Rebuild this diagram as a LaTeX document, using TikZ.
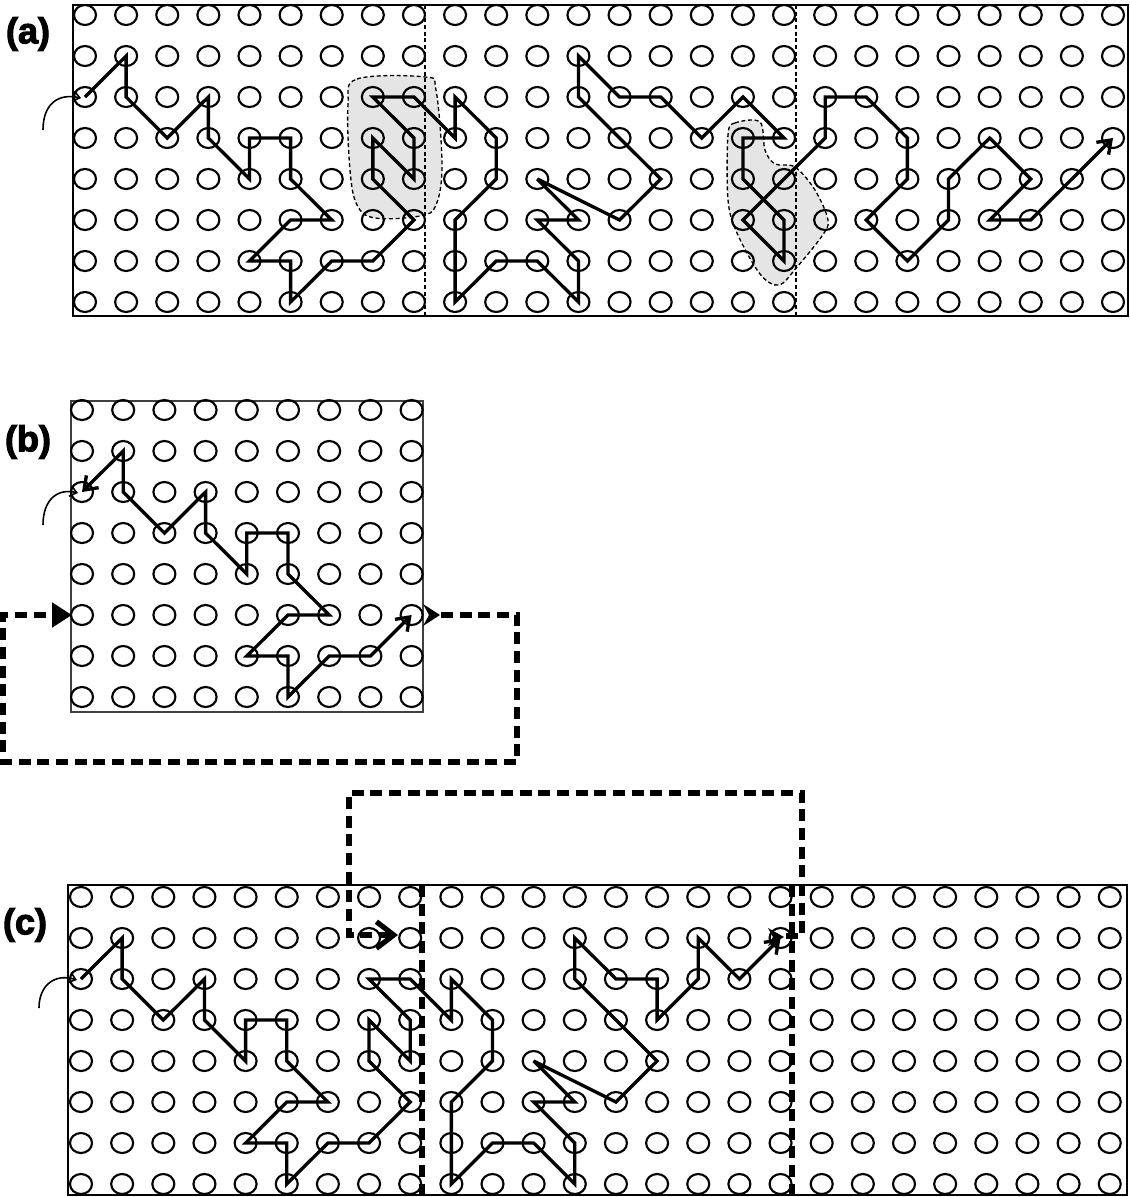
\documentclass[tikz,border=0pt]{standalone}
\usepackage{fontspec}
\newfontfamily\labfont{Liberation Sans Bold}[FakeBold=3]
\usetikzlibrary{arrows.meta,shapes.geometric,calc}
\begin{document}
\begin{tikzpicture}[x=0.75pt,y=-0.75pt,
 dot/.style={ellipse,draw=black,line width=1.6pt,minimum width=16.5pt,minimum height=15pt,inner sep=0pt},
 walk/.style={line width=2.5pt,line join=miter,miter limit=6},
 barbtip/.style={-{Straight Barb[length=9pt,width=13pt]}},
 startcurve/.style={line width=1.2pt,-{Straight Barb[length=5pt,width=8pt]}},
 thindash/.style={line width=1pt,dash pattern=on 3pt off 2pt},
 loopdash/.style={line width=3.9pt,dash pattern=on 9pt off 5pt},
 blob/.style={fill=gray!20,draw=black,line width=1pt,dash pattern=on 3pt off 2pt},
 lab/.style={font=\labfont\fontsize{27}{27}\selectfont,inner sep=0pt}
]
\useasboundingbox (0,0) rectangle (1130,1197);

\def\pathcommon{1/1,1/2,2/3,3/2,3/3,4/4,4/3,5/3,5/4,6/5,5/5,4/6,5/6,5/7,6/6,7/6,8/5}
\def\pathmid{7/4,7/3,8/4,8/3,7/2,8/2,9/3,9/2,10/3,10/4,9/5,9/7,10/6,11/6,12/7,12/6,11/5,12/5,11/4,13/5,14/4,12/2,12/1,13/2,14/2}
\def\pathAend{15/3,16/2,17/3,16/3,16/4,17/5,17/6,16/5,18/3,18/2,19/2,20/3,20/4,19/5,20/6,21/5,21/4,22/3,23/4,22/5,23/5,25/3}
\def\pathCend{14/3,15/2,15/1,16/2,17/1}

% ---------------- panel (a) ----------------
\draw[blob] plot[smooth cycle,tension=0.6] coordinates {(348,105) (357,79) (425,77) (436,90) (442,165) (436,205) (420,216) (375,218) (357,205) (350,170)};
\draw[blob] plot[smooth cycle,tension=0.55] coordinates {(728,135) (735,123) (760,122) (765,150) (775,164) (795,167) (815,190) (828,220) (822,236) (797,267) (779,285) (760,274) (737,233) (728,200)};
\draw[line width=2pt] (73,5) rectangle (1128,316);
\draw[thindash] (425,5) -- (425,316);
\draw[thindash] (796,5) -- (796,316);
\foreach \i in {0,...,25}{\foreach \j in {0,...,7}{
  \node[dot] (A\i-\j) at ({85+41.12*\i},{15+41*\j}) {};}}
\node[lab] (la) at (28,34) {(a)};
\coordinate (as) at (43,130);
\draw[startcurve] (as) .. controls (43,104) and (58,93) .. ($(A0-2.center)+(-4,1)$);
\draw[walk,barbtip] (A0-2.center) foreach \i/\j in \pathcommon {-- (A\i-\j.center)}
  foreach \i/\j in \pathmid {-- (A\i-\j.center)}
  foreach \i/\j in \pathAend {-- (A\i-\j.center)};

% ---------------- panel (b) ----------------
\draw[line width=0.9pt,black!75] (71,401) rectangle (423,712);
\foreach \i in {0,...,8}{\foreach \j in {0,...,7}{
  \node[dot] (B\i-\j) at ({82+41.2*\i},{410+41*\j}) {};}}
\node[lab] (lb) at (28,442) {(b)};
\coordinate (bs) at (43,525);
\draw[startcurve] (bs) .. controls (43,499) and (58,488) .. ($(B0-2.center)+(-4,1)$);
\draw[walk,{Straight Barb[length=9pt,width=13pt]}-{Straight Barb[length=9pt,width=13pt]}] (B0-2.center) foreach \i/\j in \pathcommon {-- (B\i-\j.center)};
\fill (423,604) -- (440,615) -- (423,626) -- (429,615) -- cycle;
\coordinate (bo) at (441,615);
\coordinate (bi) at (72,615);
\draw[loopdash,-{Triangle[length=15pt,width=18pt]}] (bo) -- (517,615) -- (517,762) -- (3,762) -- (3,615) -- (bi);

% ---------------- panel (c) ----------------
\draw[line width=1.8pt] (68,885) rectangle (1127,1195);
\draw[loopdash] (422,885) -- (422,1195);
\draw[loopdash] (792,885) -- (792,1195);
\foreach \i in {0,...,25}{\foreach \j in {0,...,7}{
  \node[dot] (C\i-\j) at ({81+41.15*\i},{897+41*\j}) {};}}
\node[lab] (lc) at (25,925) {(c)};
\coordinate (cs) at (39,1008);
\draw[startcurve] (cs) .. controls (39,985) and (55,973) .. ($(C0-2.center)+(-4,1)$);
\draw[walk,barbtip] (C0-2.center) foreach \i/\j in \pathcommon {-- (C\i-\j.center)}
  foreach \i/\j in \pathmid {-- (C\i-\j.center)}
  foreach \i/\j in \pathCend {-- (C\i-\j.center)};
\fill (768,928) -- (784,937) -- (768,946) -- (773,937) -- cycle;
\coordinate (co) at (786,936);
\coordinate (ci) at (398,935);
\draw[loopdash,-{Straight Barb[length=13pt,width=20pt]}] (co) -- (802,936) -- (802,793) -- (349,793) -- (349,935) -- (ci);
\end{tikzpicture}
\end{document}
